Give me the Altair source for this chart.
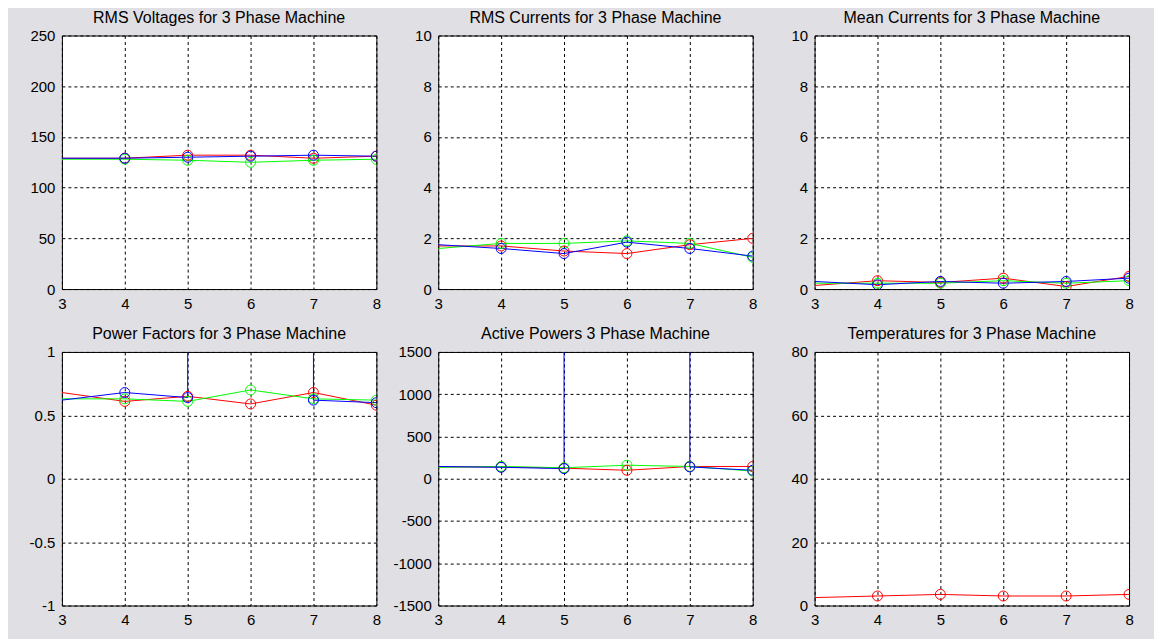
import altair as alt
import pandas as pd

x_vals = [3, 4, 5, 6, 7, 8]
phase_names = ["R", "G", "B"]
phase_colors = ["#ff0000", "#00ff00", "#0000ff"]

# RMS voltages
volt_r = [129, 129, 132, 132, 129, 131]
volt_g = [128, 128, 127, 125, 127, 128]
volt_b = [129, 129, 130, 131, 132, 131]

# RMS currents
irms_r = [1.7, 1.7, 1.5, 1.4, 1.75, 2.0]
irms_g = [1.6, 1.8, 1.8, 1.9, 1.8, 1.25]
irms_b = [1.75, 1.6, 1.4, 1.85, 1.6, 1.3]

# Mean currents
imean_r = [0.14, 0.33, 0.26, 0.43, 0.1, 0.5]
imean_g = [0.23, 0.23, 0.23, 0.33, 0.23, 0.33]
imean_b = [0.3, 0.17, 0.3, 0.23, 0.3, 0.43]

# Power factors (blue at 6 is far off scale)
pf_r = [0.68, 0.61, 0.65, 0.59, 0.68, 0.58]
pf_g = [0.63, 0.63, 0.61, 0.70, 0.63, 0.62]
pf_b = [0.62, 0.68, 0.64, 10000, 0.62, 0.60]

# Active powers (blue at 6 is far off scale)
p_r = [140, 140, 125, 100, 145, 145]
p_g = [135, 145, 130, 160, 145, 90]
p_b = [145, 135, 120, 10000000, 140, 100]

# Temperatures
temp_r = [2.5, 3.0, 3.5, 3.0, 3.0, 3.5]

titles = [
    "RMS Voltages for 3 Phase Machine",
    "RMS Currents for 3 Phase Machine",
    "Mean Currents for 3 Phase Machine",
    "Power Factors for 3 Phase Machine",
    "Active Powers 3 Phase Machine",
    "Temperatures for 3 Phase Machine",
]
y_domains = [[0, 250], [0, 10], [0, 10], [-1, 1], [-1500, 1500], [0, 80]]
y_ticks = [
    [0, 50, 100, 150, 200, 250],
    [0, 2, 4, 6, 8, 10],
    [0, 2, 4, 6, 8, 10],
    [-1, -0.5, 0, 0.5, 1],
    [-1500, -1000, -500, 0, 500, 1000, 1500],
    [0, 20, 40, 60, 80],
]
series_sets = [
    [("R", volt_r), ("G", volt_g), ("B", volt_b)],
    [("R", irms_r), ("G", irms_g), ("B", irms_b)],
    [("R", imean_r), ("G", imean_g), ("B", imean_b)],
    [("R", pf_r), ("G", pf_g), ("B", pf_b)],
    [("R", p_r), ("G", p_g), ("B", p_b)],
    [("R", temp_r)],
]

W, H = 315, 254


def panel(title, series, ydom, yticks):
    rows = []
    for name, vals in series:
        for xv, v in zip(x_vals, vals):
            rows.append({"x": xv, "v": v, "phase": name})
    df = pd.DataFrame(rows)
    base = alt.Chart(df).encode(
        x=alt.X("x:Q",
                scale=alt.Scale(domain=[3, 8], nice=False, zero=False),
                axis=alt.Axis(values=x_vals, title=None, labelFlush=False,
                              labelExpr="'' + datum.value")),
        y=alt.Y("v:Q",
                scale=alt.Scale(domain=ydom, nice=False, zero=False),
                axis=alt.Axis(values=yticks, title=None,
                              labelExpr="'' + datum.value")),
        color=alt.Color("phase:N",
                        scale=alt.Scale(domain=phase_names, range=phase_colors),
                        legend=None),
    )
    line = base.mark_line(clip=True, strokeWidth=1)
    pts = base.transform_filter("datum.x >= 4").mark_point(
        shape="circle", filled=False, size=100, strokeWidth=1, clip=True, opacity=1
    )
    return alt.layer(line, pts).properties(width=W, height=H, title=title)


panels = [panel(t, s, d, k) for t, s, d, k in zip(titles, series_sets, y_domains, y_ticks)]

chart = alt.concat(
    *panels, columns=3, spacing={"row": 63, "column": 62}, bounds="flush"
).configure(
    background="#e0dfe3",
    padding={"left": 20, "top": 0, "right": 20, "bottom": 10},
).configure_view(
    stroke="black", strokeWidth=1, fill="white"
).configure_axis(
    grid=True, gridColor="black", gridDash=[3, 3], gridOpacity=1, gridWidth=1,
    domain=False, ticks=False,
    labelFont="Liberation Sans", labelFontSize=15, labelColor="black",
    labelPadding=7,
).configure_title(
    font="Liberation Sans", fontSize=16, fontWeight="normal", color="black",
    offset=3, anchor="middle",
)

chart.save("out.html", embed_options={"renderer": "svg", "actions": False})
